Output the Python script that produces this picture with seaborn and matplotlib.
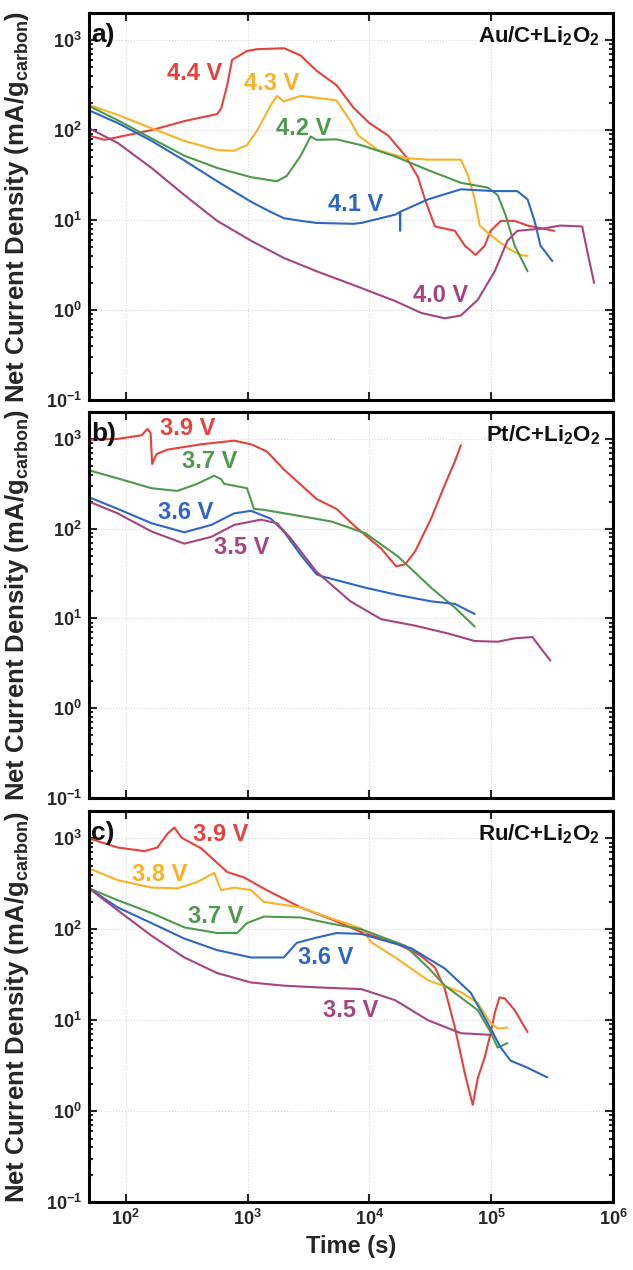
import numpy as np
import pandas as pd
import matplotlib
matplotlib.use("Agg")
import matplotlib.pyplot as plt
import seaborn as sns
from matplotlib.ticker import LogLocator, NullLocator, FuncFormatter

sns.set_theme(style="ticks")
plt.rcParams["font.family"] = ["Liberation Sans", "DejaVu Sans"]
plt.rcParams["font.weight"] = "bold"
plt.rcParams["mathtext.default"] = "regular"

# ---------------- Panel a: Au/C + Li2O2 ----------------
a_44_t = [50, 67, 163, 303, 564, 608, 681, 747, 990, 1200, 2000, 2730, 3690, 5380, 7400,
          1.0e4, 1.43e4, 1.97e4, 2.51e4, 2.86e4, 3.46e4, 5.04e4, 6.08e4, 7.47e4, 8.85e4,
          9.9e4, 1.2e5, 1.56e5, 1.99e5, 3.3e5]
a_44_y = [87, 78, 100, 126, 151, 174, 316, 603, 759, 794, 813, 676, 457, 316, 178,
          120, 87, 52, 30, 17, 8.5, 7.6, 5.2, 4.1, 5.2, 7.6, 9.8, 9.8, 8.7, 7.6]

a_43_t = [50, 86, 163, 303, 564, 776, 990, 1197, 1556, 1742, 1986, 2733, 3690, 5380, 7000,
          8130, 1.18e4, 1.97e4, 3.03e4, 5.64e4, 6.43e4, 7.33e4, 8.05e4, 9.9e4, 1.36e5,
          1.74e5, 1.99e5]
a_43_y = [190, 148, 105, 76, 60, 59, 68, 98, 190, 240, 209, 240, 229, 214, 126,
          87, 60, 49, 47, 47, 32, 17, 8.7, 6.8, 4.9, 4.1, 4.0]

a_42_t = [50, 86, 163, 303, 564, 1069, 1742, 2100, 2733, 3300, 3690, 5380, 8600, 1.63e4,
          3.03e4, 5.64e4, 9.36e4, 1.13e5, 1.31e5, 1.56e5, 1.99e5]
a_42_y = [186, 129, 81, 52, 38, 30, 27, 31, 52, 85, 78, 79, 68, 51,
          36, 26, 23, 19, 11.5, 5.2, 2.7]

a_41_t = [50, 86, 163, 303, 564, 1069, 1500, 1986, 2630, 3690, 7400, 8600, 1.63e4, 1.78e4,
          1.79e4, 1.80e4, 3.03e4, 5.64e4, 1.07e5, 1.64e5, 1.99e5, 2.27e5, 2.54e5, 3.18e5]
a_41_y = [166, 120, 76, 46, 27, 16, 12.6, 10.5, 9.9, 9.3, 9.1, 9.3, 11.5, 12.3,
          7.6, 12.4, 17, 22, 21, 21, 17, 9.8, 5.2, 3.5]

a_40_t = [50, 86, 163, 303, 564, 1069, 1986, 3690, 7400, 1.63e4, 2.66e4, 4.17e4, 5.64e4,
          7.76e4, 1.07e5, 1.36e5, 1.64e5, 2.74e5, 3.69e5, 5.58e5, 6.13e5, 7.0e5]
a_40_y = [105, 72, 38, 19, 9.8, 5.9, 3.8, 2.7, 1.9, 1.26, 0.93, 0.81, 0.87,
          1.3, 2.7, 5.9, 7.6, 8.1, 8.7, 8.5, 4.6, 2.0]

# ---------------- Panel b: Pt/C + Li2O2 ----------------
b_39_t = [50, 86, 135, 151, 160, 165, 179, 220, 417, 776, 1069, 1442, 1986, 2733, 3690,
          5380, 7690, 1.25e4, 1.66e4, 1.97e4, 2.38e4, 3.21e4, 4.17e4, 5.04e4, 5.64e4]
b_39_y = [977, 1000, 1096, 1290, 1170, 525, 676, 759, 871, 955, 871, 724, 457, 309, 214,
          166, 105, 60, 38, 40, 56, 129, 309, 562, 851]

b_37_t = [50, 86, 163, 266, 387, 533, 608, 643, 990, 1130, 1364, 2733, 4895, 9270,
          1.72e4, 3.21e4, 5.04e4, 7.33e4]
b_37_y = [447, 363, 282, 263, 316, 389, 355, 316, 282, 166, 162, 138, 120, 89,
          49, 22, 13.2, 8.1]

b_36_t = [50, 86, 163, 303, 504, 776, 1069, 1556, 1986, 2733, 3690, 4057, 9270,
          1.72e4, 3.21e4, 5.04e4, 7.33e4]
b_36_y = [224, 166, 115, 91, 110, 148, 158, 129, 93, 51, 31, 29.5, 22,
          18.2, 15.5, 14.5, 11.2]

b_35_t = [50, 86, 163, 303, 504, 776, 1290, 1742, 2263, 3690, 7000, 1.25e4, 2.38e4,
          4.41e4, 7.33e4, 1.13e5, 1.56e5, 2.18e5, 2.54e5, 3.06e5]
b_35_y = [200, 148, 93, 68, 81, 110, 126, 115, 78, 33, 15.5, 9.8, 8.3,
          6.8, 5.6, 5.5, 6.0, 6.2, 4.7, 3.4]

# ---------------- Panel c: Ru/C + Li2O2 ----------------
c_39_t = [50, 86, 143, 182, 220, 251, 286, 417, 564, 681, 936, 1442, 2733, 5083, 8600,
          1.63e4, 2.66e4, 3.46e4, 4.17e4, 5.04e4, 6.08e4, 7.06e4, 7.76e4, 8.85e4, 9.9e4,
          1.07e5, 1.17e5, 1.29e5, 1.56e5, 1.99e5]
c_39_y = [1000, 794, 724, 794, 1122, 1318, 1023, 776, 537, 427, 372, 269, 174, 126, 93,
          71, 51, 38, 22, 8.3, 2.6, 1.17, 2.3, 3.9, 7.2, 12, 17.8, 17.4, 12.9, 7.4]

c_38_t = [50, 86, 163, 266, 387, 533, 608, 776, 1069, 1364, 2733, 4624, 8600, 1.04e4,
          1.63e4, 3.03e4, 5.64e4, 7.76e4, 9.9e4, 1.13e5, 1.36e5]
c_38_y = [468, 347, 288, 282, 331, 417, 269, 288, 269, 200, 174, 135, 102, 72,
          49, 27.5, 20.4, 15.5, 9.3, 8.1, 8.3]

c_37_t = [50, 86, 163, 303, 564, 821, 990, 1364, 2733, 4624, 8600, 1.97e4, 3.03e4,
          4.17e4, 5.64e4, 7.76e4, 9.9e4, 1.13e5, 1.36e5]
c_37_y = [282, 209, 151, 105, 91, 91, 117, 138, 135, 117, 100, 66, 38,
          24, 17.8, 12.9, 7.4, 5.0, 5.6]

c_36_t = [50, 86, 163, 303, 564, 1069, 1986, 2535, 3690, 5380, 8600, 2.2e4, 4.17e4,
          6.8e4, 9.36e4, 1.2e5, 1.44e5, 1.99e5, 2.89e5]
c_36_y = [282, 174, 117, 79, 59, 49, 49, 71, 81, 91, 89, 62, 37,
          20, 9.3, 5.0, 3.6, 3.0, 2.35]

c_35_t = [50, 86, 163, 303, 564, 1069, 1986, 3690, 8600, 1.63e4, 3.03e4, 5.64e4, 9.9e4]
c_35_y = [282, 162, 85, 49, 33, 26, 24, 23, 22, 16.6, 10, 7.2, 6.9]

# ---------------- labels ----------------
catalysts = ["Au/C+Li$_2$O$_2$", "Pt/C+Li$_2$O$_2$", "Ru/C+Li$_2$O$_2$"]
panel_tags = ["a)", "b)", "c)"]

colors = {"4.4 V": "#e8413c", "4.3 V": "#f9b224", "4.2 V": "#4e9a4c",
          "4.1 V": "#2c67c6", "4.0 V": "#a7447f",
          "3.9 V": "#e8413c", "3.8 V": "#f9b224", "3.7 V": "#4e9a4c",
          "3.6 V": "#2c67c6", "3.5 V": "#a7447f"}

panels = [
    [("4.4 V", a_44_t, a_44_y, (366, 430)), ("4.3 V", a_43_t, a_43_y, (1585, 333)),
     ("4.2 V", a_42_t, a_42_y, (2890, 105)), ("4.1 V", a_41_t, a_41_y, (7690, 15)),
     ("4.0 V", a_40_t, a_40_y, (3.87e4, 1.47))],
    [("3.9 V", b_39_t, b_39_y, (321, 1290)), ("3.7 V", b_37_t, b_37_y, (485, 555)),
     ("3.6 V", b_36_t, b_36_y, (309, 151)), ("3.5 V", b_35_t, b_35_y, (902, 61.5))],
    [("3.9 V", c_39_t, c_39_y, (608, 1107)), ("3.8 V", c_38_t, c_38_y, (190, 402)),
     ("3.7 V", c_37_t, c_37_y, (553, 139)), ("3.6 V", c_36_t, c_36_y, (4375, 49)),
     ("3.5 V", c_35_t, c_35_y, (7000, 12.9))],
]

fig = plt.figure(figsize=(6.33, 12.70), dpi=100)
rects = [[0.1406, 0.685, 0.8278, 0.3047],
         [0.1406, 0.3717, 0.8278, 0.3040],
         [0.1406, 0.0535, 0.8278, 0.3079]]

fmt = FuncFormatter(lambda v, p: r"$\mathregular{10^{%d}}$" % int(round(np.log10(v))))

for i, (rect, series) in enumerate(zip(rects, panels)):
    ax = fig.add_axes(rect)
    df = pd.concat([pd.DataFrame({"t": t, "j": y, "V": name}) for name, t, y, _ in series],
                   ignore_index=True)
    sns.lineplot(data=df, x="t", y="j", hue="V", palette=colors, estimator=None,
                 linewidth=1.5, legend=False, ax=ax)
    ax.set_xscale("log")
    ax.set_yscale("log")
    ax.set_xlim(50, 1e6)
    ax.set_ylim(0.1, 2000)
    ax.xaxis.set_major_locator(LogLocator(base=10, numticks=12))
    ax.xaxis.set_minor_locator(NullLocator())
    ax.yaxis.set_major_locator(LogLocator(base=10, numticks=12))
    ax.yaxis.set_minor_locator(LogLocator(base=10, subs=np.arange(2, 10), numticks=12))
    ax.xaxis.set_major_formatter(fmt)
    ax.yaxis.set_major_formatter(fmt)
    ax.tick_params(which="both", direction="in", top=True, right=True, width=1.5,
                   labelsize=13, pad=5)
    ax.tick_params(which="major", length=6)
    ax.tick_params(which="minor", length=3)
    for lab in ax.get_xticklabels() + ax.get_yticklabels():
        lab.set_fontweight("bold")
    ax.grid(True, which="major", color="#d8d8d8", linestyle=":", linewidth=0.8)
    for sp in ax.spines.values():
        sp.set_linewidth(2.2)
        sp.set_color("black")
    ax.set_ylabel("Net Current Density (mA/g$_{carbon}$)", fontsize=18.5, fontweight="bold")
    ax.yaxis.set_label_coords(-0.11, 0.5)
    if i < 2:
        ax.tick_params(labelbottom=False)
        ax.set_xlabel("")
    else:
        ax.set_xlabel("Time (s)", fontsize=17, fontweight="bold", labelpad=4)
    for name, t, y, (lx, ly) in series:
        ax.text(lx, ly, name, color=colors[name], fontsize=17, fontweight="bold",
                ha="center", va="center")
    ax.text(0.975, 0.94, catalysts[i], transform=ax.transAxes, ha="right", va="center",
            fontsize=16, fontweight="bold", color="#111111")
    ax.text(0.004, 0.943, panel_tags[i], transform=ax.transAxes, ha="left", va="center",
            fontsize=19, fontweight="bold", color="#111111")

fig.savefig("out.png", dpi=100)
